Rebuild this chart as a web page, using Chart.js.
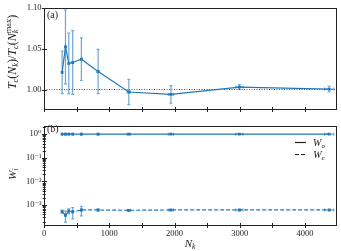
<!DOCTYPE html>
<html>
<head>
<meta charset="utf-8">
<script src="https://cdn.jsdelivr.net/npm/chart.js@4"></script>
<style>
  html, body { margin: 0; padding: 0; background: #fff; }
  #wrap { position: relative; width: 341px; height: 251px; }
  .box { position: absolute; left: 0; }
</style>
</head>
<body>
<div id="wrap">
  <div class="box" style="top:0"><canvas id="topChart" width="341" height="118"></canvas></div>
  <div class="box" style="top:118px"><canvas id="botChart" width="341" height="133"></canvas></div>
</div>
<script>
// system sizes N_k and their spread
const nk = [278, 329, 380, 440, 573, 829, 1300, 1945, 2994, 4370];
const nkErr = [4, 5, 6, 7, 9, 12, 25, 40, 55, 70];

// panel (a): Tc(N_k)/Tc(N_k^max)
const tcRatio = [1.021, 1.052, 1.032, 1.033, 1.037, 1.022, 0.997, 0.994, 1.003, 1.0005];
const tcErr = [0.026, 0.045, 0.037, 0.039, 0.026, 0.027, 0.0155, 0.0107, 0.003, 0.0035];

// panel (b): weights
const wO = [0.9995, 0.9996, 0.9994, 0.9995, 0.9994, 0.9994, 0.9994, 0.9994, 0.9994, 0.9994];
const wOErr = [0.0001, 0.0002, 0.00015, 0.00026, 0.00026, 0.00003, 0.00003, 0.00002, 0.00002, 0.00002];
const wE = [5.3e-4, 3.7e-4, 5.6e-4, 5.2e-4, 6.2e-4, 6.2e-4, 6.0e-4, 6.2e-4, 6.2e-4, 6.2e-4];
const wEErr = [0.8e-4, 1.8e-4, 1.3e-4, 2.6e-4, 2.7e-4, 0.3e-4, 0.3e-4, 0.2e-4, 0.2e-4, 0.2e-4];

// axes
const xTickMarks = [0, 500, 1000, 1500, 2000, 2500, 3000, 3500, 4000];
const xTickLabels = [0, 1000, 2000, 3000, 4000];
const yTicksA = [1.00, 1.05, 1.10];
const yDecadesB = [-4, -3, -2, -1, 0];
const X_MAX = 4490;

const BLUE = "#2178b8";
const ERR = "rgba(33,120,184,0.65)";
const INK = "#222";
const SERIF = "'Liberation Serif', 'DejaVu Serif', serif";

const SUP = { "0": "\u2070", "1": "\u00b9", "2": "\u00b2", "3": "\u00b3", "-": "\u207b" };
const sup = s => String(s).split("").map(c => SUP[c]).join("");

// draws text made of pieces: i = italic, r = roman, sub / sup = small shifted
function richParts(ctx, parts, size, draw, x, y) {
  let cx = x;
  parts.forEach(p => {
    const small = p.s === "sub" || p.s === "sup";
    const fs = small ? size * 0.7 : size;
    const italic = p.s === "i" || p.s === "sub";
    ctx.font = (italic ? "italic " : "") + fs + "px " + SERIF;
    const w = ctx.measureText(p.t).width;
    if (draw) {
      let dy = 0;
      if (p.s === "sub") dy = size * 0.22;
      if (p.s === "sup") dy = -size * 0.38;
      ctx.fillText(p.t, cx, y + dy);
    }
    if (!p.keep) cx += w;
  });
  return cx - x;
}

function drawRich(ctx, parts, x, y, size) {
  const w = richParts(ctx, parts, size, false, 0, 0);
  ctx.textAlign = "left";
  ctx.textBaseline = "alphabetic";
  richParts(ctx, parts, size, true, x - w / 2, y);
}

const errorBars = {
  id: "errorBars",
  beforeDatasetsDraw(chart) {
    const { ctx, scales: { x, y } } = chart;
    chart.data.datasets.forEach(ds => {
      if (!ds.yErr) return;
      ctx.save();
      ctx.strokeStyle = ds.errColor;
      ctx.lineWidth = 1.2;
      ds.data.forEach((p, i) => {
        const px = x.getPixelForValue(p.x);
        const py = y.getPixelForValue(p.y);
        const y1 = y.getPixelForValue(p.y + ds.yErr[i]);
        const y2 = y.getPixelForValue(Math.max(p.y - ds.yErr[i], 1e-9));
        const x1 = x.getPixelForValue(p.x - ds.xErr[i]);
        const x2 = x.getPixelForValue(p.x + ds.xErr[i]);
        ctx.beginPath();
        ctx.moveTo(px, y1); ctx.lineTo(px, y2);
        ctx.moveTo(px - 1.5, y1); ctx.lineTo(px + 1.5, y1);
        ctx.moveTo(px - 1.5, y2); ctx.lineTo(px + 1.5, y2);
        ctx.moveTo(x1, py); ctx.lineTo(x2, py);
        ctx.moveTo(x1, py - 1.5); ctx.lineTo(x1, py + 1.5);
        ctx.moveTo(x2, py - 1.5); ctx.lineTo(x2, py + 1.5);
        ctx.stroke();
      });
      ctx.restore();
    });
  }
};

const frame = {
  id: "frame",
  afterDraw(chart) {
    const { ctx, chartArea: a, scales: { x, y } } = chart;
    ctx.save();
    ctx.strokeStyle = INK;
    ctx.lineWidth = 1;
    ctx.strokeRect(Math.round(a.left) + 0.5, Math.round(a.top) + 0.5,
      Math.round(a.right - a.left) - 1, Math.round(a.bottom - a.top) - 1);
    ctx.beginPath();
    x.ticks.forEach(t => {
      const px = Math.round(x.getPixelForValue(t.value)) + 0.5;
      ctx.moveTo(px, a.bottom - 3); ctx.lineTo(px, a.bottom + 2);
    });
    y.ticks.forEach(t => {
      const py = Math.round(y.getPixelForValue(t.value)) + 0.5;
      const len = t.minor ? 1.8 : 3;
      ctx.moveTo(a.left - len * 0.7, py); ctx.lineTo(a.left + len, py);
    });
    ctx.stroke();
    ctx.restore();
  }
};

const textTop = {
  id: "textTop",
  afterDraw(chart) {
    const { ctx } = chart;
    ctx.save();
    ctx.fillStyle = INK;
    ctx.font = "10px " + SERIF;
    ctx.textAlign = "left";
    ctx.textBaseline = "middle";
    ctx.fillText("(a)", 47, 15);
    ctx.translate(15.5, 52);
    ctx.rotate(-Math.PI / 2);
    drawRich(ctx, [
      { t: "T", s: "i" }, { t: "c", s: "sub" }, { t: "(", s: "r" }, { t: "N", s: "i" }, { t: "k", s: "sub" },
      { t: ")/", s: "r" }, { t: "T", s: "i" }, { t: "c", s: "sub" }, { t: "(", s: "r" }, { t: "N", s: "i" },
      { t: "k", s: "sub", keep: true }, { t: "max", s: "sup" }, { t: ")", s: "r" }
    ], 0, 0, 12);
    ctx.restore();
  }
};

const textBot = {
  id: "textBot",
  afterDraw(chart) {
    const { ctx } = chart;
    ctx.save();
    ctx.fillStyle = INK;
    ctx.font = "10px " + SERIF;
    ctx.textAlign = "left";
    ctx.textBaseline = "middle";
    ctx.fillText("(b)", 47, 11);
    drawRich(ctx, [{ t: "N", s: "i" }, { t: "k", s: "sub" }], 190, 129, 11);
    ctx.save();
    ctx.translate(15.5, 56);
    ctx.rotate(-Math.PI / 2);
    drawRich(ctx, [{ t: "W", s: "i" }, { t: "i", s: "sub" }], 0, 0, 11);
    ctx.restore();
    // legend
    ctx.strokeStyle = INK;
    ctx.lineWidth = 1.2;
    ctx.beginPath(); ctx.moveTo(295, 24.5); ctx.lineTo(306, 24.5); ctx.stroke();
    ctx.setLineDash([4, 2]);
    ctx.beginPath(); ctx.moveTo(295, 36.5); ctx.lineTo(306, 36.5); ctx.stroke();
    ctx.setLineDash([]);
    drawRich(ctx, [{ t: "W", s: "i" }, { t: "o", s: "sub" }], 319, 28, 10);
    drawRich(ctx, [{ t: "W", s: "i" }, { t: "e", s: "sub" }], 319, 40, 10);
    ctx.restore();
  }
};

const tickFont = { family: SERIF, size: 8.5 };
const noGrid = { display: false, drawTicks: false };

new Chart(document.getElementById("topChart"), {
  type: "line",
  data: {
    datasets: [
      {
        data: nk.map((v, i) => ({ x: v, y: tcRatio[i] })),
        borderColor: BLUE, backgroundColor: BLUE, borderWidth: 1.2,
        pointStyle: "rect", pointRadius: 2, pointBorderWidth: 0,
        yErr: tcErr, xErr: nkErr, errColor: ERR
      },
      {
        data: [{ x: 0, y: 1 }, { x: X_MAX, y: 1 }],
        borderColor: "#555", borderDash: [1, 1.5], borderWidth: 1, pointRadius: 0
      }
    ]
  },
  options: {
    responsive: false, animation: false, events: [],
    layout: { padding: { top: 5, right: 4, left: 0, bottom: 0 } },
    plugins: { legend: { display: false }, tooltip: { enabled: false } },
    scales: {
      x: {
        type: "linear", min: 0, max: X_MAX,
        grid: noGrid, border: { display: false }, ticks: { display: false },
        afterBuildTicks: s => { s.ticks = xTickMarks.map(v => ({ value: v })); },
        afterFit: s => { s.height = 8; }
      },
      y: {
        min: 0.975, max: 1.10,
        grid: noGrid, border: { display: false },
        ticks: { font: tickFont, color: INK, padding: 2.5, autoSkip: false, callback: v => v.toFixed(2) },
        afterBuildTicks: s => { s.ticks = yTicksA.map(v => ({ value: v })); },
        afterFit: s => { s.width = 44; }
      }
    }
  },
  plugins: [errorBars, frame, textTop]
});

new Chart(document.getElementById("botChart"), {
  type: "line",
  data: {
    datasets: [
      {
        data: nk.map((v, i) => ({ x: v, y: wO[i] })),
        borderColor: BLUE, backgroundColor: BLUE, borderWidth: 1.2,
        pointStyle: "rect", pointRadius: 2, pointBorderWidth: 0,
        yErr: wOErr, xErr: nkErr, errColor: ERR
      },
      {
        data: nk.map((v, i) => ({ x: v, y: wE[i] })),
        borderColor: BLUE, backgroundColor: BLUE, borderWidth: 1.2, borderDash: [4, 2],
        pointStyle: "rect", pointRadius: 2, pointBorderWidth: 0,
        yErr: wEErr, xErr: nkErr, errColor: ERR
      }
    ]
  },
  options: {
    responsive: false, animation: false, events: [],
    layout: { padding: { top: 3, right: 4, left: 0, bottom: 0 } },
    plugins: { legend: { display: false }, tooltip: { enabled: false } },
    scales: {
      x: {
        type: "linear", min: 0, max: X_MAX,
        grid: noGrid, border: { display: false },
        ticks: {
          font: tickFont, color: INK, padding: 3, maxRotation: 0, autoSkip: false,
          callback: v => xTickLabels.includes(v) ? String(v) : ""
        },
        afterBuildTicks: s => { s.ticks = xTickMarks.map(v => ({ value: v })); },
        afterFit: s => { s.height = 25; }
      },
      y: {
        type: "logarithmic", min: 1.3e-4, max: 2.3,
        grid: noGrid, border: { display: false },
        ticks: {
          font: tickFont, color: INK, padding: 2.5, autoSkip: false,
          callback: (v, i, ticks) => ticks[i].minor ? "" : "10" + sup(Math.round(Math.log10(v)))
        },
        afterBuildTicks: s => {
          const t = [];
          yDecadesB.forEach(d => {
            for (let m = 1; m <= 9; m++) {
              const v = m * Math.pow(10, d);
              if (v >= s.min && v <= s.max) t.push({ value: v, minor: m !== 1 });
            }
          });
          s.ticks = t;
        },
        afterFit: s => { s.width = 44; }
      }
    }
  },
  plugins: [errorBars, frame, textBot]
});
</script>
</body>
</html>
